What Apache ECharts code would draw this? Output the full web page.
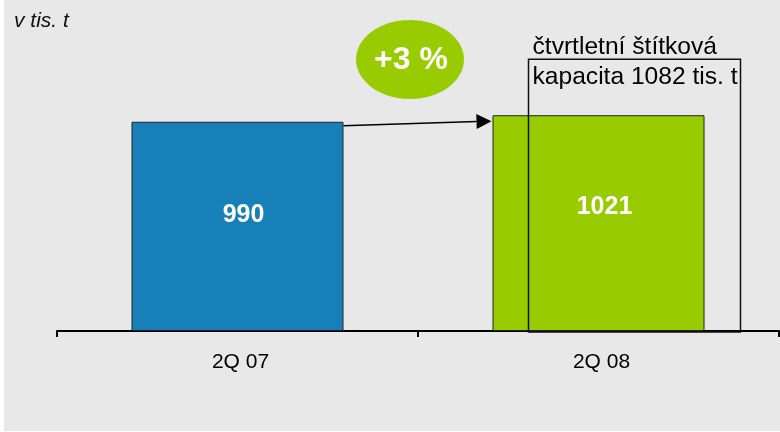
<!DOCTYPE html>
<html>
<head>
<meta charset="utf-8">
<script src="https://cdn.jsdelivr.net/npm/echarts@6/dist/echarts.min.js"></script>
<style>html,body{margin:0;padding:0;background:#fff}#c{width:780px;height:432px}</style>
</head>
<body>
<div id="c"></div>
<script>
// ---- data ----
const categories = ['2Q 07', '2Q 08'];
const production = [990, 1021];
const barColors = ['#1880b8', '#99cc00'];
const unitLabel = 'v tis. t';
const capacityValue = 1082;              // quarterly nameplate capacity (text)
const capacityBoxTop = [1286];           // top of the capacity frame, axis units
const arrowValues = [971, 993];          // arrow start (2Q 07 bar edge) / end (2Q 08 bar edge)
const yMin = 0, yMax = 1500;

// ---- derived ----
const growthPct = Math.round((production[1] / production[0] - 1) * 100);
const growthText = (growthPct >= 0 ? '+' : '') + growthPct + ' %';

const BAR_W = 212;
const BOX_OFFSET = 36;
const LABEL_POS = ['44.5%', '42.5%'];
const FONT = 'Liberation Sans, Arial, sans-serif';

const chart = echarts.init(document.getElementById('c'), null, {renderer: 'canvas'});

chart.setOption({
  backgroundColor: '#e8e8e8',
  animation: false,
  grid: {left: 57, right: 1, top: 14, bottom: 101, containLabel: false},
  xAxis: {
    type: 'category',
    data: categories,
    axisLine: {lineStyle: {color: '#000', width: 2}},
    axisTick: {show: true, length: 6, lineStyle: {color: '#000', width: 2}},
    axisLabel: {color: '#000', fontSize: 21, fontFamily: FONT, margin: 21, padding: [0, 0, 0, 6]}
  },
  yAxis: {type: 'value', min: yMin, max: yMax, show: false, splitLine: {show: false}},
  graphic: {
    elements: [
      {type: 'rect', shape: {x: 0, y: 0, width: 4, height: 432}, style: {fill: '#fff'}, silent: true},
      {type: 'rect', shape: {x: 0, y: 431, width: 780, height: 1}, style: {fill: '#fff'}, silent: true},
      {type: 'text', x: 14, y: 21, style: {text: unitLabel, font: 'italic 21px ' + FONT, fill: '#111', verticalAlign: 'middle'}},
      {type: 'ellipse', shape: {cx: 410, cy: 59.5, rx: 54, ry: 39.5}, style: {fill: '#99cc00'}, z: 10},
      {type: 'text', x: 411, y: 60, z: 11, style: {text: growthText, font: 'bold 32px ' + FONT, fill: '#fff', align: 'center', verticalAlign: 'middle'}}
    ]
  },
  series: [
    {
      type: 'bar',
      barWidth: BAR_W,
      data: production.map((v, i) => ({
        value: v,
        itemStyle: {color: barColors[i]},
        label: {position: ['50%', LABEL_POS[i]]}
      })),
      itemStyle: {borderColor: '#222', borderWidth: 1},
      label: {
        show: true,
        align: 'center',
        verticalAlign: 'middle',
        offset: [6, 0],
        color: '#fff',
        fontWeight: 'bold',
        fontSize: 25,
        fontFamily: FONT
      },
      z: 2
    },
    {
      type: 'custom',
      z: 5,
      data: capacityBoxTop.map(v => [1, v]),
      renderItem: function (params, api) {
        const top = api.coord([api.value(0), api.value(1)]);
        const base = api.coord([api.value(0), 0]);
        const left = top[0] - BAR_W / 2 + BOX_OFFSET;
        return {
          type: 'group',
          children: [
            {type: 'rect', shape: {x: left, y: top[1], width: BAR_W, height: base[1] - top[1] + 1},
              style: {fill: 'none', stroke: '#111', lineWidth: 1.5}},
            {type: 'text', x: left + 4, y: top[1] - 12,
              style: {text: 'čtvrtletní štítková', font: '24.6px ' + FONT, fill: '#000', verticalAlign: 'middle'}},
            {type: 'text', x: left + 4, y: top[1] + 18,
              style: {text: 'kapacita ' + capacityValue + ' tis. t', font: '24.6px ' + FONT, fill: '#000', verticalAlign: 'middle'}}
          ]
        };
      }
    },
    {
      type: 'custom',
      z: 6,
      data: [[0, arrowValues[0], arrowValues[1]]],
      renderItem: function (params, api) {
        const p0 = api.coord([0, api.value(1)]);
        const p1 = api.coord([1, api.value(2)]);
        const x0 = p0[0] + BAR_W / 2;
        const x1 = p1[0] - BAR_W / 2 - 1;
        const y0 = p0[1], y1 = p1[1];
        const head = 15;
        const ang = Math.atan2(y1 - y0, x1 - x0);
        const bx = x1 - head * Math.cos(ang), by = y1 - head * Math.sin(ang);
        const nx = -Math.sin(ang) * 7.5, ny = Math.cos(ang) * 7.5;
        return {
          type: 'group',
          children: [
            {type: 'line', shape: {x1: x0, y1: y0, x2: bx, y2: by}, style: {stroke: '#000', lineWidth: 1.5}},
            {type: 'polygon', shape: {points: [[x1, y1], [bx + nx, by + ny], [bx - nx, by - ny]]}, style: {fill: '#000'}}
          ]
        };
      }
    }
  ]
});
</script>
</body>
</html>
